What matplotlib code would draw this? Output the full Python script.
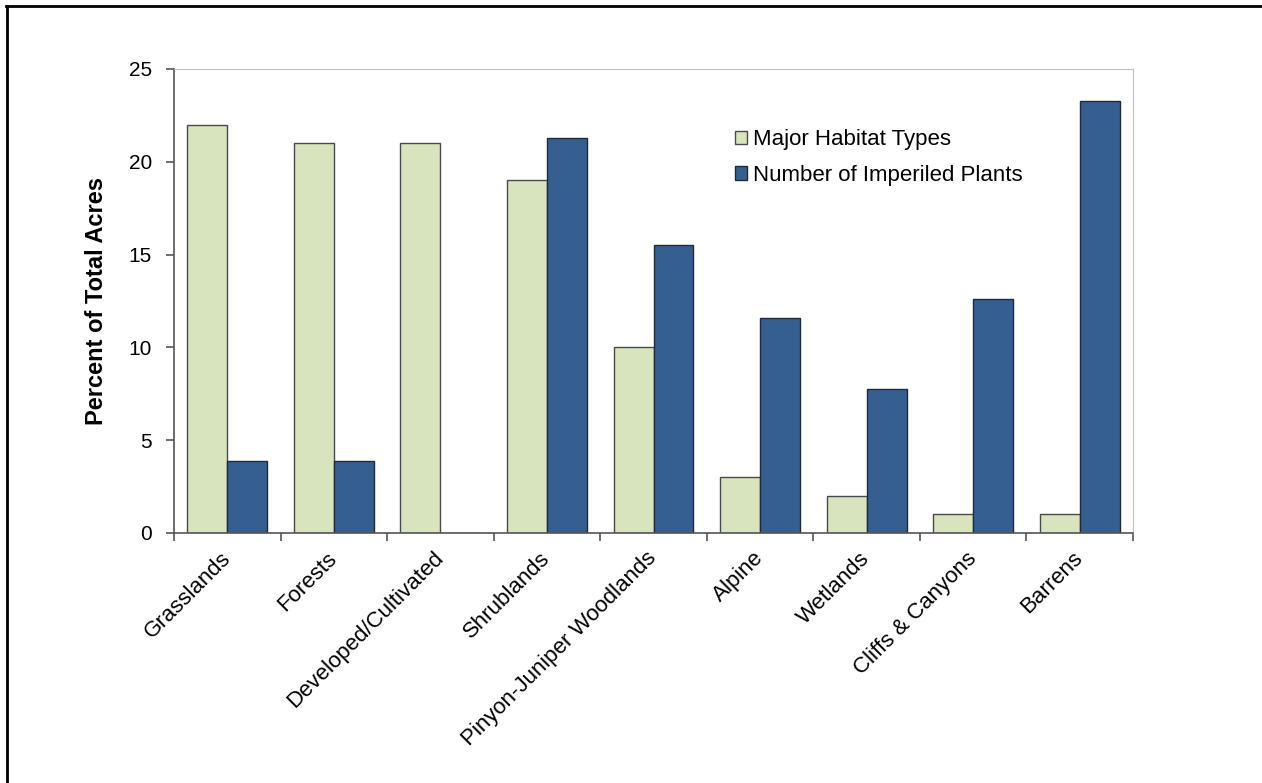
import matplotlib.pyplot as plt
import numpy as np
from matplotlib import ticker
from matplotlib.lines import Line2D

plt.rcParams['font.family'] = ['Liberation Sans', 'DejaVu Sans']

categorias = ['Grasslands', 'Forests', 'Developed/Cultivated', 'Shrublands',
              'Pinyon-Juniper Woodlands', 'Alpine', 'Wetlands', 'Cliffs & Canyons', 'Barrens']
habitat = [22, 21, 21, 19, 10, 3, 2, 1, 1]
plantas = [3.9, 3.9, 0, 21.3, 15.5, 11.6, 7.75, 12.6, 23.3]

fig = plt.figure(figsize=(12.62, 7.83), dpi=100)
ax = fig.add_axes([0.1379, 0.3193, 0.7599, 0.5926])

x = np.arange(len(categorias))
w = 0.375
ax.bar(x - w/2, habitat, w, color='#D7E4BD', edgecolor='#4a4a4a', linewidth=1.0,
       label='Major Habitat Types')
ax.bar(x + w/2, plantas, w, color='#355F91', edgecolor='#1f2a3a', linewidth=1.0,
       label='Number of Imperiled Plants')

# Eixos
ax.set_xlim(-0.5, len(categorias) - 0.5)
ax.set_ylim(0, 25)
ax.yaxis.set_major_locator(ticker.MultipleLocator(5))
ax.set_xticks(x)
ax.set_xticklabels(categorias, rotation=45, ha='right', va='center', rotation_mode='anchor', fontsize=16)
ax.tick_params(axis='x', which='major', length=0, pad=16)
ax.set_xticks(np.arange(-0.5, len(categorias), 1), minor=True)
ax.tick_params(axis='x', which='minor', length=6, color='#555555', width=1.2)
ax.tick_params(axis='y', length=6, color='#555555', width=1.2, labelsize=15, pad=10)
ax.set_ylabel('Percent of Total Acres', fontsize=17, fontweight='bold', labelpad=15)

for s in ['top', 'right']:
    ax.spines[s].set_color('#c0c0c0')
for s in ['left', 'bottom']:
    ax.spines[s].set_color('#555555')
    ax.spines[s].set_linewidth(1.2)

leg = ax.legend(loc='upper left', bbox_to_anchor=(0.585, 0.87), frameon=False, fontsize=16,
                handlelength=0.55, handleheight=0.55, handletextpad=0.25, labelspacing=0.65,
                borderpad=0, borderaxespad=0)

# Moldura da figura (apenas topo e esquerda visiveis)
fig.add_artist(Line2D([0.005, 1.0], [0.992, 0.992], color='black', linewidth=2.0))
fig.add_artist(Line2D([0.0055, 0.0055], [0.0, 0.992], color='black', linewidth=2.0))

fig.savefig('out.png', dpi=100)
